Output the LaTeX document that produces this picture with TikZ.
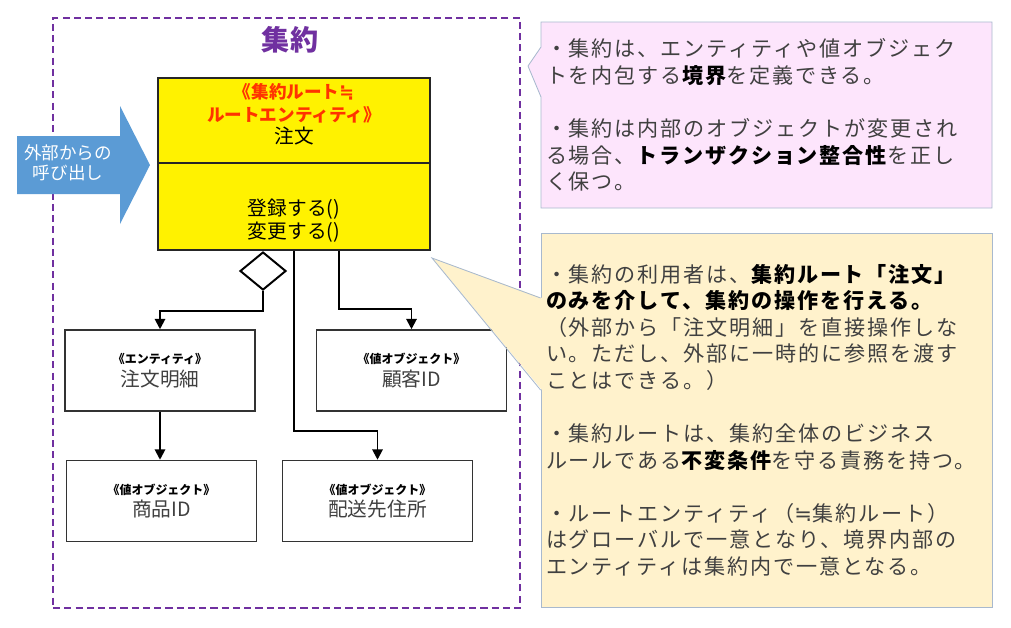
\documentclass[tikz,border=0pt]{standalone}
\usepackage{fontspec}
\setmainfont{Noto Sans CJK JP}
\newfontfamily\notefont[LetterSpace=9]{Noto Sans CJK JP}
\newfontfamily\eqfont{DejaVu Sans}
\usetikzlibrary{arrows.meta,positioning,shapes.geometric,shapes.callouts}

\definecolor{aggpurple}{HTML}{7030A0}
\definecolor{rootred}{HTML}{FF3300}
\definecolor{callblue}{HTML}{5B9BD5}
\definecolor{notepink}{HTML}{FDE5FC}
\definecolor{noteyellow}{HTML}{FFF2CC}
\definecolor{noteedge}{HTML}{A8B9CE}
\definecolor{notetext}{HTML}{404040}

\newcommand{\upx}{0.025cm}
\newcommand{\nearly}{{\eqfont ≒}}
\newcommand{\stereo}[1]{{\fontsize{8.5}{10}\selectfont\bfseries\color{black}#1}}
\newcommand{\rootmark}[1]{{\fontsize{12.5}{14}\selectfont\bfseries\color{rootred}#1}}
\newcommand{\notebold}[1]{{\bfseries\color{black}#1}}

\begin{document}
\begin{tikzpicture}[
  x=0.025cm, y=-0.025cm,
  font=\fontsize{14}{16}\selectfont,
  >={Triangle[length=2.6mm,width=2.6mm]},
  aggframe/.style={rectangle,draw=aggpurple,dash pattern=on 5pt off 3pt,line width=1.4pt,
                   minimum width=467*\upx,minimum height=590*\upx,inner sep=0pt},
  aggtitle/.style={text=aggpurple,font=\fontsize{20}{24}\selectfont\bfseries},
  rootbox/.style={rectangle,draw=black!85,fill=yellow,line width=1.1pt,
                  minimum width=272*\upx,align=center,inner sep=0pt},
  elembox/.style={rectangle,draw=black!80,fill=white,line width=1.1pt,minimum width=190*\upx,
                  minimum height=81*\upx,align=center,inner sep=0pt,text=black!75},
  aggmark/.style={diamond,draw=black,fill=white,line width=1.4pt,
                  minimum width=46*\upx,minimum height=38*\upx,inner sep=0pt},
  flow/.style={->,draw=black,line width=1.4pt},
  callarrow/.style={fill=callblue},
  calltext/.style={text=white,align=center,font=\fontsize{12.5}{14.5}\selectfont},
  note/.style={rectangle,draw=noteedge,line width=0.6pt,text=notetext,align=left,
               text width=441*\upx,inner xsep=5*\upx,inner ysep=0pt,minimum width=451*\upx,
               font=\notefont\fontsize{15}{18.9}\selectfont},
  noteedge/.style={draw=noteedge,line width=0.6pt},
]
\useasboundingbox (0,0) rectangle (1011,627);

%% ------------------------------------------------------------ aggregate
\node[aggframe] (aggbox) at (286.5,313) {};
\node[aggtitle] (aggname) at (290,40) {集約};

%% ----------------------------------------------------------------- root
\node[rootbox,minimum height=85*\upx] (roothead) at (294,120.5)
  {\rootmark{《集約ルート\nearly}\\\rootmark{ルートエンティティ》}\\注文\\[-6pt]\mbox{}};
\node[rootbox,minimum height=87*\upx] (rootops) at (294,206.5)
  {\rule{0pt}{32pt}登録する()\\変更する()};

%% -------------------------------------------------------------- members
\node[elembox] (detail) at (160,370.5) {\stereo{《エンティティ》}\\注文明細};
\node[elembox] (customer) at (411.5,370.5) {\stereo{《値オブジェクト》}\\顧客ID};
\node[elembox] (product) at (161.5,501) {\stereo{《値オブジェクト》}\\商品ID};
\node[elembox] (address) at (377.5,501) {\stereo{《値オブジェクト》}\\配送先住所};

\node[aggmark] (aggmark) at (263,271) {};
\draw[flow] (aggmark.south) -- ++(0,20) -| (detail.north);
\draw[flow] (rootops.south) -- ++(0,180) -| (address.north);
\draw[flow] ([xshift=45*\upx]rootops.south) -- ++(0,58) -| (customer.north);
\draw[flow] (detail.south) -- (detail.south |- product.north);

%% -------------------------------------------------------- outside call
\fill[callarrow] (17,136) -- (120,136) -- (120,106) -- (150,165) -- (120,224)
  -- (120,194) -- (17,194) -- cycle;
\node[calltext] (callin) at (68,163) {外部からの\\呼び出し};

%% ---------------------------------------------------------------- notes
\node[note,rectangle callout,fill=notepink,minimum height=186*\upx,
      callout absolute pointer={(528,66)},callout pointer width=50*\upx] (boundnote) at (766.5,115)
  {・集約は、エンティティや値オブジェク\\
   トを内包する\notebold{境界}を定義できる。\\[18.9pt]
   ・集約は内部のオブジェクトが変更され\\
   る場合、\notebold{トランザクション整合性}を正し\\
   く保つ。};
\node[note,fill=noteyellow,minimum height=374*\upx] (rootnote) at (766.5,420)
  {・集約の利用者は、\notebold{集約ルート「注文」}\\
   \notebold{のみを介して、集約の操作を行える。}\\
   （外部から「注文明細」を直接操作しな\\
   い。ただし、外部に一時的に参照を渡す\\
   ことはできる。）\\[18.9pt]
   ・集約ルートは、集約全体のビジネス\\
   ルールである\notebold{不変条件}を守る責務を持つ。\\[18.9pt]
   ・ルートエンティティ（\nearly 集約ルート）\\
   はグローバルで一意となり、境界内部の\\
   エンティティは集約内で一意となる。};
\coordinate (tiptop) at (rootnote.west |- 0,298);
\coordinate (tipbot) at (rootnote.west |- 0,390);
\fill[noteyellow] ([xshift=1pt]tiptop) -- (432,258) -- ([xshift=1pt]tipbot) -- cycle;
\draw[noteedge] (tiptop) -- (432,258) -- (tipbot);

\end{tikzpicture}
\end{document}
